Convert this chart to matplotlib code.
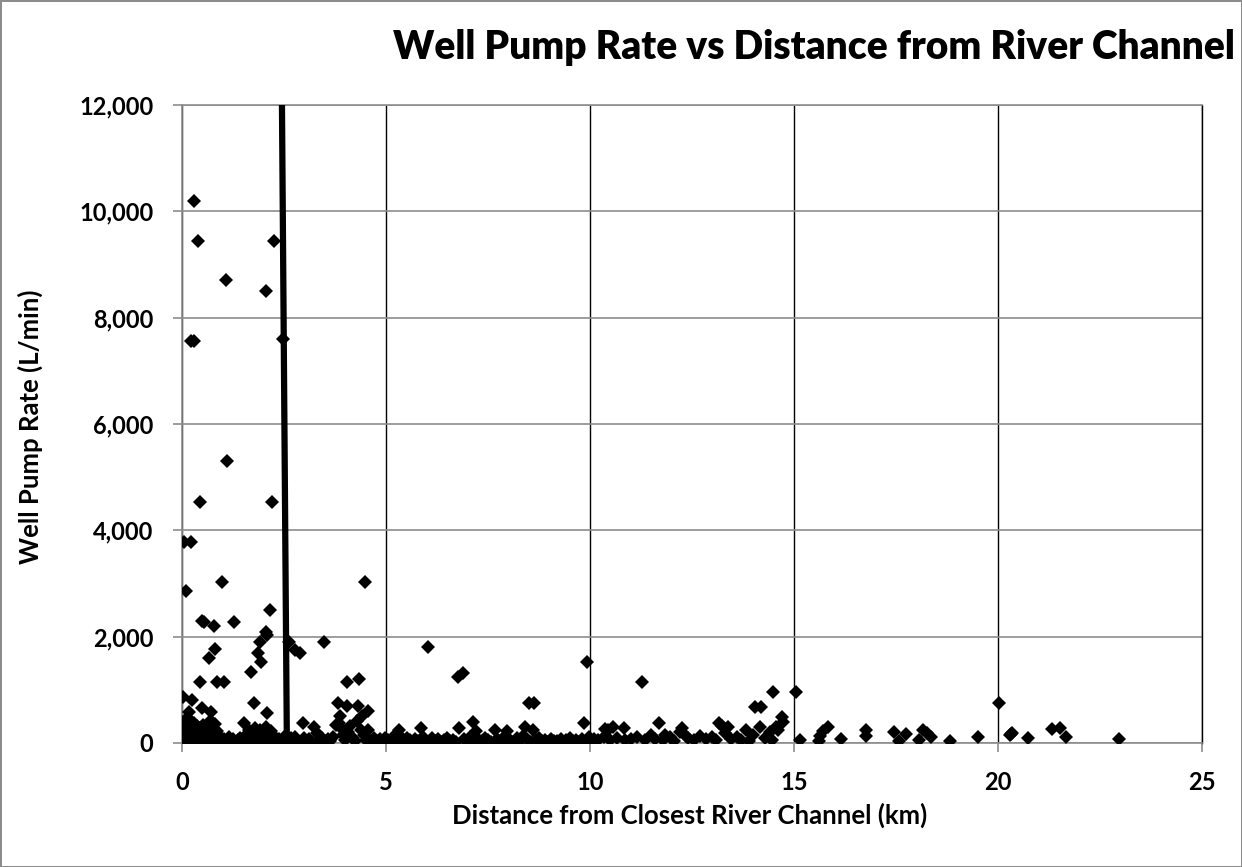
import matplotlib
matplotlib.use("Agg")
import matplotlib.pyplot as plt
from matplotlib.ticker import FuncFormatter, MultipleLocator

# ---------------- data ----------------
# prominent wells (distance km, pump rate L/min)
high_dist = [0.29, 0.40, 2.26, 1.07, 2.07, 0.22, 0.30, 2.48, 1.11, 0.44, 2.20, 0.05, 0.22,
             0.99, 0.10, 4.49, 2.16, 0.48, 0.53, 0.79, 1.28, 2.05, 2.08, 1.91, 2.62, 3.48,
             2.77, 2.89, 0.81, 0.66, 1.87, 1.93, 1.69, 0.44, 0.87, 1.04, 4.05, 4.35, 0.02,
             0.24, 1.77, 3.83, 4.04, 4.32, 4.57, 0.50, 0.70, 2.09, 0.18, 3.87, 4.40, 1.52,
             2.96, 3.24, 0.77,
             6.02, 6.77, 6.88, 8.50, 8.63, 9.93, 5.85, 6.80, 7.14, 8.41, 8.61, 9.85, 5.33,
             7.67, 7.97, 10.37,
             11.27, 14.49, 15.04, 14.04, 14.19, 14.70, 14.74, 11.70, 10.57, 10.45, 10.83,
             12.25, 13.15, 13.23, 13.39, 13.82, 14.17, 14.40, 14.60, 15.15, 11.85, 12.20, 12.35,
             20.03, 20.29, 20.35, 15.84, 15.72, 15.64, 15.62, 16.14, 16.76, 16.76, 17.46,
             17.75, 17.57, 18.17, 18.25, 18.07, 18.36, 18.82, 19.52, 20.32, 20.73, 21.32,
             21.52, 21.67, 22.97]
high_rate = [10200, 9450, 9450, 8700, 8500, 7570, 7570, 7600, 5300, 4530, 4530, 3780, 3780,
             3030, 2850, 3030, 2510, 2290, 2270, 2200, 2270, 2080, 2030, 1900, 1900, 1900,
             1740, 1700, 1770, 1600, 1700, 1520, 1330, 1140, 1140, 1140, 1140, 1200, 860,
             810, 760, 760, 690, 700, 610, 660, 590, 570, 590, 500, 500, 380,
             380, 300, 370,
             1800, 1250, 1320, 760, 760, 1520, 290, 290, 390, 310, 245, 370, 245,
             245, 225, 265,
             1140, 950, 950, 680, 680, 480, 400, 380, 295, 245, 285,
             285, 370, 320, 295, 245, 310, 200, 240, 60, 150, 200, 140,
             760, 150, 190, 310, 220, 130, 40, 75, 245, 135, 200,
             165, 30, 245, 195, 60, 120, 45, 110, 165, 90, 260,
             280, 120, 70]

# dense low-rate band, 0-1 km
near_dist = [0.02, 0.03, 0.04, 0.05, 0.06, 0.07, 0.08, 0.09, 0.10, 0.11, 0.12, 0.13, 0.14,
             0.15, 0.16, 0.17, 0.18, 0.19, 0.20, 0.21, 0.22, 0.23, 0.24, 0.25, 0.26, 0.27,
             0.28, 0.29, 0.30, 0.31, 0.32, 0.33, 0.34, 0.35, 0.36, 0.37, 0.38, 0.39, 0.40,
             0.42, 0.43, 0.45, 0.46, 0.47, 0.49, 0.51, 0.52, 0.54, 0.55, 0.57, 0.58, 0.60,
             0.62, 0.63, 0.65, 0.67, 0.68, 0.70, 0.72, 0.74, 0.75, 0.77, 0.79, 0.80, 0.82,
             0.84, 0.85, 0.87, 0.89, 0.91, 0.93, 0.95, 0.97, 0.99]
near_rate = [50, 150, 250, 380, 100, 20, 200, 300, 60, 450, 130, 30, 220,
             80, 350, 170, 40, 260, 110, 420, 60, 190, 300, 20, 140, 240,
             70, 380, 160, 30, 270, 100, 200, 50, 320, 130, 250, 40, 180,
             90, 290, 30, 150, 230, 70, 340, 120, 40, 210, 90, 300, 50,
             160, 260, 30, 120, 420, 70, 200, 40, 280, 110, 50, 180, 350,
             80, 30, 230, 60, 140, 40, 100, 60, 30]

# dense low-rate band, 1-5 km
mid_dist = [1.02, 1.08, 1.14, 1.20, 1.25, 1.31, 1.37, 1.42, 1.48, 1.55, 1.60, 1.63, 1.67,
            1.72, 1.76, 1.80, 1.83, 1.86, 1.90, 1.94, 1.98, 2.02, 2.06, 2.11, 2.14, 2.18,
            2.23, 2.28, 2.33, 2.38, 2.43, 2.50, 2.55, 2.60, 2.66, 2.72, 2.78, 2.83, 2.90,
            2.98, 3.05, 3.12, 3.18, 3.30, 3.36, 3.42, 3.50, 3.57, 3.63, 3.70, 3.78, 3.86,
            3.92, 3.95, 4.00, 4.08, 4.12, 4.18, 4.25, 4.30, 4.38, 4.45, 4.50, 4.55, 4.62,
            4.70, 4.78, 4.85, 4.92, 4.98]
mid_rate = [80, 40, 120, 30, 70, 20, 60, 100, 30, 140, 60, 250, 30,
            180, 90, 290, 40, 150, 250, 70, 200, 30, 310, 120, 60, 230,
            40, 110, 30, 80, 20, 60, 150, 30, 90, 40, 120, 60, 20,
            100, 40, 70, 20, 180, 60, 100, 30, 80, 40, 120, 330, 380,
            260, 150, 60, 200, 320, 100, 30, 420, 250, 150, 60, 250, 30,
            90, 40, 70, 20, 100]

# dense low-rate band, 5-15 km
far_dist = [5.05, 5.12, 5.18, 5.25, 5.30, 5.38, 5.45, 5.52, 5.58, 5.65, 5.72, 5.78, 5.90,
            5.96, 6.05, 6.12, 6.20, 6.28, 6.35, 6.42, 6.50, 6.58, 6.65, 6.72, 6.90, 6.98,
            7.05, 7.12, 7.20, 7.28, 7.35, 7.42, 7.50, 7.58, 7.72, 7.80, 7.88, 7.95, 8.05,
            8.12, 8.20, 8.28, 8.35, 8.45, 8.55, 8.68, 8.75, 8.82, 8.90, 8.98, 9.05, 9.12,
            9.20, 9.28, 9.35, 9.42, 9.50, 9.58, 9.65, 9.72, 9.80, 9.90, 9.97, 10.05,
            10.10, 10.20, 10.35, 10.50, 10.65, 10.85, 11.00, 11.15, 11.35, 11.50, 11.60,
            11.80, 11.95, 12.05, 12.40, 12.55, 12.70, 12.85, 13.00, 13.10, 13.30, 13.45,
            13.60, 13.70, 13.90, 14.00, 14.30, 14.45, 14.55]
far_rate = [60, 30, 110, 40, 170, 80, 30, 100, 50, 20, 80, 40, 110,
            50, 20, 90, 40, 70, 20, 60, 100, 30, 60, 20, 80, 40,
            120, 30, 220, 60, 30, 100, 50, 20, 80, 40, 110, 30, 60,
            20, 90, 40, 130, 70, 20, 50, 100, 30, 60, 20, 80, 40,
            30, 70, 20, 50, 100, 30, 60, 20, 80, 40, 120, 30,
            80, 60, 120, 50, 90, 60, 70, 120, 50, 150, 80,
            60, 110, 40, 90, 60, 130, 70, 110, 60, 180, 70,
            120, 60, 40, 150, 90, 50, 300]

# threshold line (two end points)
line_dist = [2.45, 2.57]
line_rate = [12000, 0]

title = "Well Pump Rate vs Distance from River Channel"
xlabel = "Distance from Closest River Channel (km)"
ylabel = "Well Pump Rate (L/min)"

# ---------------- plot ----------------
W, H = 1242, 867
fig = plt.figure(figsize=(W / 100, H / 100), dpi=100)
fig.patch.set_edgecolor("#8c8c8c")
fig.patch.set_linewidth(2)
ax = fig.add_axes([182 / W, 1 - 743 / H, (1202 - 182) / W, (743 - 105) / H])

FONT = "Lato"

ax.set_xlim(0, 25)
ax.set_ylim(0, 12000)
ax.xaxis.set_major_locator(MultipleLocator(5))
ax.yaxis.set_major_locator(MultipleLocator(2000))
ax.yaxis.set_major_formatter(FuncFormatter(lambda v, p: f"{int(v):,}"))

ax.grid(axis="y", color="#8c8c8c", linewidth=1.2, zorder=0)
ax.grid(axis="x", color="black", linewidth=1.0, zorder=0)
ax.set_axisbelow(True)
for s in ["left", "bottom", "top"]:
    ax.spines[s].set_color("#8c8c8c")
    ax.spines[s].set_linewidth(1.2)
ax.spines["right"].set_color("black")
ax.spines["right"].set_linewidth(1.0)

ax.tick_params(axis="both", direction="out", length=6.5, width=1.2, color="#8c8c8c",
               labelsize=17)
ax.tick_params(axis="x", pad=14)
ax.tick_params(axis="y", pad=14)
for lab in ax.get_xticklabels() + ax.get_yticklabels():
    lab.set_fontfamily(FONT)
    lab.set_fontweight("bold")

ms = 7.5
for d, r in [(near_dist, near_rate), (mid_dist, mid_rate), (far_dist, far_rate),
             (high_dist, high_rate)]:
    ax.plot(d, r, linestyle="none", marker="D", markersize=ms, color="black",
            markeredgewidth=0, zorder=3)

ax.plot(line_dist, line_rate, color="black", linewidth=4.5, zorder=4,
        solid_capstyle="butt")

fig.text(1235 / W, 1 - 48 / H, title, ha="right", va="center", fontsize=28,
         fontweight="heavy", family=FONT)
fig.text(690 / W, 1 - 815 / H, xlabel, ha="center", va="center", fontsize=18.5,
         fontweight="bold", family=FONT)
fig.text(30 / W, 1 - 427 / H, ylabel, ha="center", va="center", rotation=90,
         fontsize=18.5, fontweight="bold", family=FONT)

fig.savefig("out.png", dpi=100, edgecolor=fig.get_edgecolor())
